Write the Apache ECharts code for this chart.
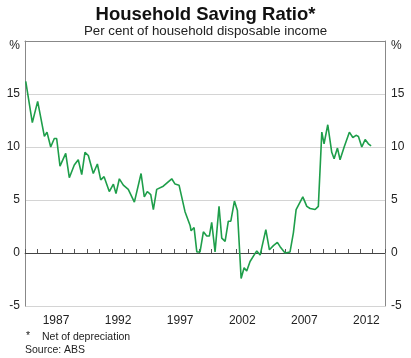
<!DOCTYPE html>
<html><head><meta charset="utf-8">
<script src="https://cdn.jsdelivr.net/npm/echarts@6/dist/echarts.min.js"></script>
<style>html,body{margin:0;padding:0;background:#fff}#c{width:411px;height:358px}</style>
</head><body><div id="c"></div>
<script>
// Dates (decimal years) and saving ratio values (%)
const dates = [1985.06,1985.59,1986.02,1986.56,1986.77,1987.07,1987.36,1987.55,1987.82,1988.28,1988.57,1988.97,1989.29,1989.57,1989.83,1990.10,1990.50,1990.83,1991.10,1991.37,1991.79,1992.12,1992.33,1992.60,1992.92,1993.32,1993.81,1994.35,1994.61,1994.85,1995.13,1995.34,1995.61,1996.14,1996.82,1997.09,1997.41,1997.89,1998.30,1998.38,1998.62,1998.84,1999.10,1999.37,1999.64,1999.85,2000.04,2000.31,2000.63,2000.85,2001.12,2001.38,2001.58,2001.87,2002.11,2002.41,2002.65,2002.86,2003.13,2003.45,2003.67,2003.94,2004.40,2004.69,2005.01,2005.33,2005.55,2005.95,2006.11,2006.35,2006.62,2006.84,2007.38,2007.70,2007.97,2008.37,2008.63,2008.91,2009.09,2009.39,2009.71,2009.90,2010.17,2010.38,2010.71,2011.13,2011.41,2011.67,2011.86,2012.13,2012.40,2012.66,2012.88];
const values = [16.2,12.3,14.3,11.0,11.4,10.0,10.8,10.8,8.2,9.4,7.1,8.3,8.8,7.4,9.5,9.2,7.5,8.4,6.9,7.2,5.8,6.5,5.6,7.0,6.4,6.0,4.8,7.5,5.3,5.8,5.5,4.1,6.0,6.3,7.0,6.5,6.4,3.9,2.6,2.1,2.4,0.1,0.1,2.0,1.6,1.6,2.9,0.1,4.4,1.4,1.1,3.0,3.0,4.9,4.0,-2.4,-1.4,-1.7,-0.8,-0.2,0.2,-0.2,2.2,0.3,0.7,1.0,0.6,0.0,-0.1,0.1,1.9,4.1,5.3,4.4,4.2,4.1,4.4,11.4,10.3,12.1,9.5,8.9,9.9,8.8,10.0,11.4,10.9,11.1,11.0,10.0,10.7,10.3,10.1];
const yearLabels = [1987,1992,1997,2002,2007,2012];
const yTicks = [-5,0,5,10,15];

const FONT = 'Arial, "Liberation Sans", sans-serif';
const chart = echarts.init(document.getElementById('c'), null, {renderer:'canvas'});
const grid = {left:25, right:26, top:41, bottom:52, show:false};
const pts = dates.map((d,i)=>[d, values[i]]);
const yLab = (v)=> v===20 ? '{p|%}' : (yTicks.indexOf(v)>=0 ? String(v) : '');
chart.setOption({
  animation:false,
  title:[
    {text:'Household Saving Ratio*', left:'center', top:0, textStyle:{fontFamily:FONT, fontSize:18.5, fontWeight:'bold', color:'#111'}},
    {text:'Per cent of household disposable income', left:'center', top:20, textStyle:{fontFamily:FONT, fontSize:13.3, fontWeight:'normal', color:'#222'}}
  ],
  grid: grid,
  xAxis:[
    {type:'value', min:1985, max:2014, interval:1, position:'bottom',
     axisLine:{show:true, lineStyle:{color:'#888', width:1}},
     axisTick:{show:true, inside:true, length:4, lineStyle:{color:'#555'}},
     axisLabel:{show:false}, splitLine:{show:false}},
    {type:'value', min:1985, max:2014, interval:0.5, position:'bottom',
     axisLine:{show:false}, axisTick:{show:false}, splitLine:{show:false},
     axisLabel:{show:true, margin:9, fontFamily:FONT, fontSize:12, color:'#222',
       formatter:(v)=>{const y=Math.round(v-0.5); return (Math.abs(v-0.5-y)<1e-6 && yearLabels.indexOf(y)>=0)? String(y):'';}}},
    {type:'value', min:1985, max:2014, position:'top',
     axisLine:{show:true, lineStyle:{color:'#888', width:1}}, axisTick:{show:false}, axisLabel:{show:false}, splitLine:{show:false}}
  ],
  yAxis:[
    {type:'value', min:-5, max:20, interval:5, position:'left',
     axisLine:{show:true, lineStyle:{color:'#888'}}, axisTick:{show:false},
     splitLine:{show:true, lineStyle:{color:'#d4d4d4', width:1}},
     axisLabel:{margin:5, fontFamily:FONT, fontSize:12, color:'#222', formatter:yLab,
       rich:{p:{fontFamily:FONT, fontSize:12, color:'#222', padding:[10,0,0,0]}}}},
    {type:'value', min:-5, max:20, interval:5, position:'right',
     axisLine:{show:true, lineStyle:{color:'#888'}}, axisTick:{show:false}, splitLine:{show:false},
     axisLabel:{margin:6, fontFamily:FONT, fontSize:12, color:'#222', formatter:yLab,
       rich:{p:{fontFamily:FONT, fontSize:12, color:'#222', padding:[10,0,0,0]}}}}
  ],
  series:[{
    type:'line', xAxisIndex:0, yAxisIndex:0, data:pts, showSymbol:false, symbol:'none',
    lineStyle:{color:'#1e9e4a', width:1.6}, z:5,
    markLine:{silent:true, symbol:['none','none'], label:{show:false},
      lineStyle:{color:'#444', width:1, type:'solid'}, data:[{yAxis:0}], z:3}
  }],
  graphic:[
    {type:'text', left:26, top:331, style:{text:'*', font:'10.5px '+FONT, fill:'#222'}},
    {type:'text', left:42, top:332, style:{text:'Net of depreciation', font:'10.5px '+FONT, fill:'#222'}},
    {type:'text', left:25, top:345, style:{text:'Source: ABS', font:'10.5px '+FONT, fill:'#222'}}
  ]
});
</script></body></html>
